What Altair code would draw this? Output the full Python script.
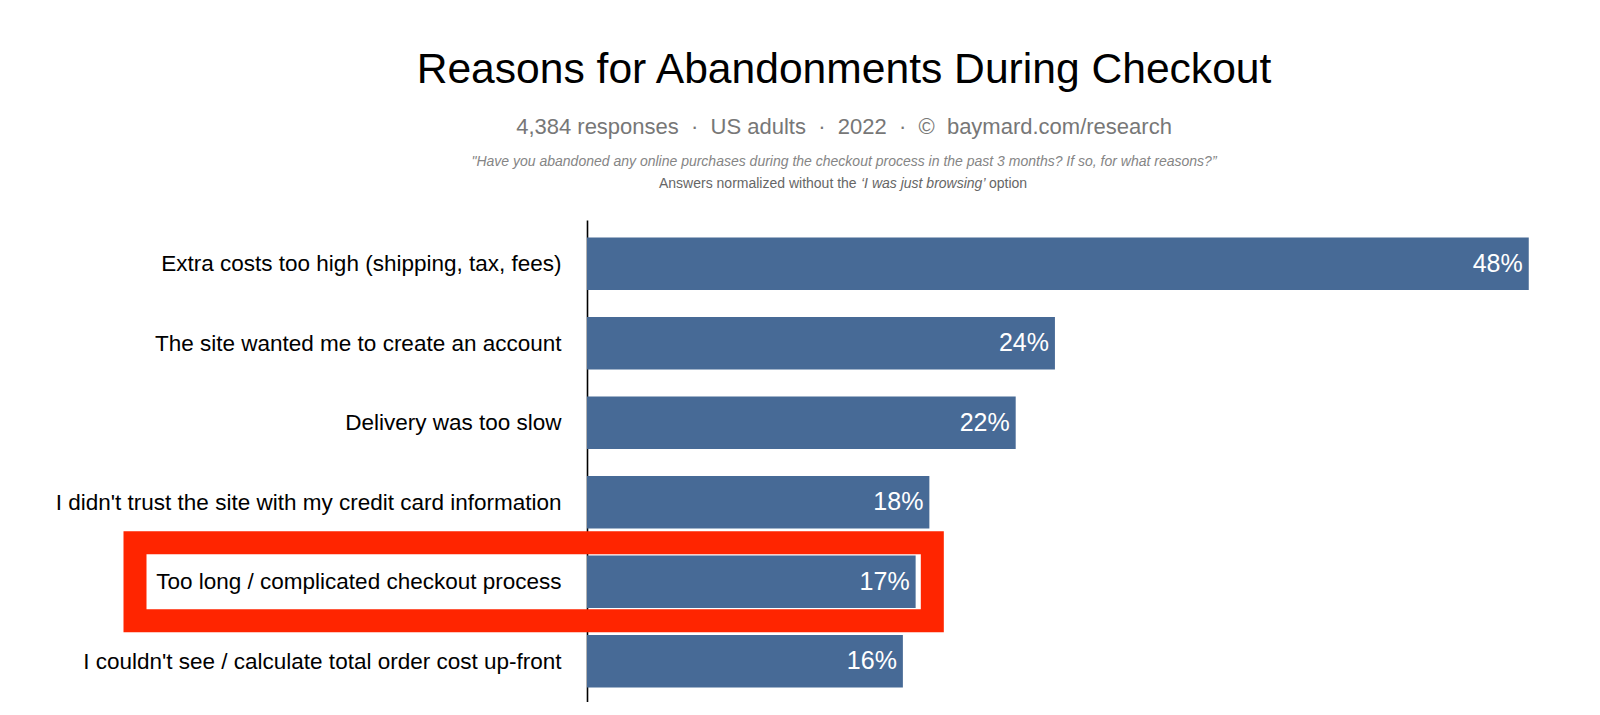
import json
import altair as alt
import pandas as pd

FONT = "Liberation Sans"

# ---- data ----
categories = [
    "Extra costs too high (shipping, tax, fees)",
    "The site wanted me to create an account",
    "Delivery was too slow",
    "I didn't trust the site with my credit card information",
    "Too long / complicated checkout process",
    "I couldn't see / calculate total order cost up-front",
    "There were website errors / crashes",
]
values = [48.0, 23.85, 21.85, 17.45, 16.75, 16.1, 13.25]
value_labels = ["48%", "24%", "22%", "18%", "17%", "16%", "13%"]
highlight_index = 4
visible_ticks = [0, 1, 2, 3, 4, 5]

title_text = "Reasons for Abandonments During Checkout"
subtitle_text = "4,384 responses\u00a0\u00a0·\u00a0\u00a0US adults\u00a0\u00a0·\u00a0\u00a02022\u00a0\u00a0·\u00a0\u00a0©\u00a0\u00a0baymard.com/research"
note_line1 = "\"Have you abandoned any online purchases during the checkout process in the past 3 months? If so, for what reasons?\u201d"
note_line2_parts = ["Answers normalized without the", "\u2018I was just browsing\u2019", "option"]

df = pd.DataFrame({
    "idx": list(range(len(categories))),
    "category": categories,
    "value": values,
    "label": value_labels,
})

BAR_HALF = 0.331
y_scale = alt.Scale(domain=[-0.5497, 5.513], reverse=True, nice=False, zero=False)
x_scale = alt.Scale(domain=[0, 50], nice=False)

base = alt.Chart(df).transform_calculate(
    lo=f"datum.idx - {BAR_HALF}", hi=f"datum.idx + {BAR_HALF}", zero="0"
)

bars = base.mark_bar(color="#476a96", clip=True).encode(
    x=alt.X("value:Q", scale=x_scale, axis=None),
    x2=alt.X2("zero:Q"),
    y=alt.Y(
        "lo:Q",
        scale=y_scale,
        axis=alt.Axis(
            values=visible_ticks,
            labelExpr=json.dumps(categories) + "[datum.value]",
            title=None,
            grid=False,
            ticks=False,
            tickSize=0,
            domain=True,
            domainColor="#000000",
            domainWidth=1.6,
            labelFont=FONT,
            labelFontSize=22.5,
            labelColor="#000000",
            labelPadding=26,
            labelLimit=800,
            labelOverlap=False,
            labelBound=False,
            labelFlush=False,
        ),
    ),
    y2=alt.Y2("hi:Q"),
)

value_text = alt.Chart(df).transform_filter(
    f"datum.idx <= {max(visible_ticks)}"
).mark_text(
    align="right", baseline="middle", dx=-6, font=FONT, fontSize=25, color="white", clip=True
).encode(
    x=alt.X("value:Q", scale=x_scale),
    y=alt.Y("idx:Q", scale=y_scale),
    text="label:N",
)

highlight = alt.Chart(df).transform_filter(
    f"datum.idx == {highlight_index}"
).transform_calculate(
    top="datum.idx - 0.49", bottom="datum.idx + 0.49", right="datum.value + 0.85"
).mark_rect(
    fillOpacity=0, stroke="#ff2500", strokeWidth=23
).encode(
    x=alt.X("right:Q", scale=x_scale),
    x2=alt.value(-452),
    y=alt.Y("top:Q", scale=y_scale),
    y2=alt.Y2("bottom:Q"),
)


def header(text, y, size, color, italic=False, x=257, align="center"):
    return alt.Chart(alt.Data(values=[{}])).mark_text(
        text=text,
        font=FONT,
        fontSize=size,
        color=color,
        align=align,
        baseline="alphabetic",
        fontStyle="italic" if italic else "normal",
    ).encode(x=alt.value(x), y=alt.value(y))


headers = [
    header(title_text, -137, 42.6, "#000000"),
    header(subtitle_text, -86, 22, "#777777"),
    header(note_line1, -54, 14, "#858585", italic=True),
    header(note_line2_parts[0], -32, 14, "#666666", x=72, align="left"),
    header(note_line2_parts[1], -32, 14, "#666666", italic=True, x=274, align="left"),
    header(note_line2_parts[2], -32, 14, "#666666", x=402, align="left"),
]

chart = alt.layer(bars, value_text, highlight, *headers).properties(
    width=981,
    height=482,
    autosize=alt.AutoSizeParams(type="none"),
    padding={"left": 579, "top": 212, "right": 0, "bottom": 0},
    background="white",
).configure_view(stroke=None)

chart.save("out.html", embed_options={"renderer": "svg", "actions": False})
